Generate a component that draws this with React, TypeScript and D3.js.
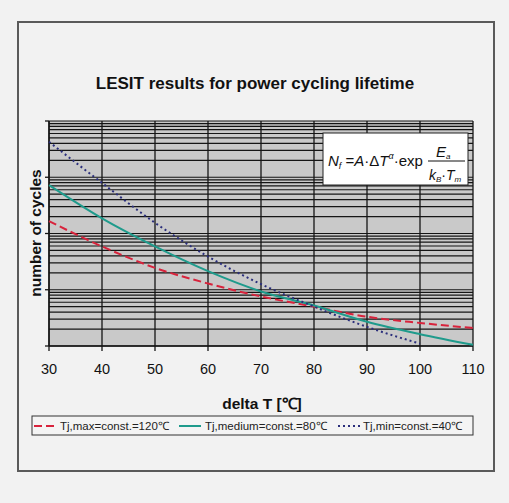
import React from 'react';
import * as d3 from 'd3';

// delta T values [°C]
const deltaT = [30, 40, 50, 60, 70, 80, 90, 100, 110];
// number of cycles
const tjMax = [166000, 58900, 24500, 12900, 7590, 5010, 3310, 2570, 2090];
const tjMedium = [724000, 186000, 58900, 21400, 9330, 5250, 2690, 1620, 1050];
const tjMin = [4270000, 794000, 155000, 38900, 12600, 5010, 2190, 1100];

const seriesNames = ['Tj,max=const.=120℃', 'Tj,medium=const.=80℃', 'Tj,min=const.=40℃'];
const seriesColors = ['#d8233c', '#1f9b8c', '#2b2f7c'];
const seriesDash = ['8,4', null, '2,3'];
const seriesData = [tjMax, tjMedium, tjMin];

const xTicks = [30, 40, 50, 60, 70, 80, 90, 100, 110];
const decades = [1e3, 1e4, 1e5, 1e6, 1e7];

const W = 509, H = 503;
const FONT = '"Liberation Sans", Arial, sans-serif';

export default function App() {
  const plot = { left: 49, right: 473, top: 121, bottom: 346 };
  const x = d3.scaleLinear().domain([30, 110]).range([plot.left, plot.right]);
  const y = d3.scaleLog().domain([1e3, 1e7]).range([plot.bottom, plot.top]);

  // all log grid lines 1..9 x 10^k
  const gridVals: number[] = [];
  decades.slice(0, -1).forEach(d => {
    for (let m = 1; m < 10; m++) gridVals.push(d * m);
  });
  gridVals.push(1e7);

  const line = d3.line<[number, number]>()
    .x(d => x(d[0]))
    .y(d => y(d[1]))
    .curve(d3.curveMonotoneX);

  const legendItems = [
    { lx: 34, tx: 60 },
    { lx: 179, tx: 205 },
    { lx: 338, tx: 363 },
  ];

  return (
    <svg width={W} height={H} style={{ position: 'absolute', left: 0, top: 0, background: '#f2f2f2' }}
      fontFamily={FONT}>
      <rect x={0} y={0} width={W} height={H} fill="#f2f2f2" />
      {/* outer frame */}
      <rect x={18} y={22} width={476} height={449} fill="#f2f2f2" stroke="#5a5a5a" strokeWidth={2} />

      <text x={255} y={89} textAnchor="middle" fontSize={17} fontWeight="bold" fill="#111">
        LESIT results for power cycling lifetime
      </text>

      {/* plot area */}
      <rect x={plot.left} y={plot.top} width={plot.right - plot.left} height={plot.bottom - plot.top} fill="#c9c9c9" />
      {gridVals.map((v, i) => (
        <line key={'h' + i} x1={plot.left} x2={plot.right} y1={y(v)} y2={y(v)} stroke="#151515" strokeWidth={1.2} />
      ))}
      {xTicks.map(t => (
        <line key={'v' + t} x1={x(t)} x2={x(t)} y1={plot.top} y2={plot.bottom + 5} stroke="#151515" strokeWidth={1.3} />
      ))}
      {/* axes */}
      <line x1={plot.left} x2={plot.left} y1={plot.top} y2={plot.bottom} stroke="#151515" strokeWidth={1.4} />
      <line x1={plot.left} x2={plot.right} y1={plot.bottom} y2={plot.bottom} stroke="#151515" strokeWidth={1.4} />
      {decades.map(d => (
        <line key={'yt' + d} x1={plot.left - 4} x2={plot.left} y1={y(d)} y2={y(d)} stroke="#151515" strokeWidth={1.3} />
      ))}

      {/* formula box */}
      <rect x={323} y={133} width={145} height={52} fill="#ffffff" stroke="#222" strokeWidth={1} />
      <text x={328} y={166} fontSize={15} fill="#111">
        <tspan fontStyle="italic">N</tspan>
        <tspan fontSize={9} dy={3} fontStyle="italic">f</tspan>
        <tspan dy={-3}> =</tspan>
        <tspan fontStyle="italic">A</tspan>
        <tspan>·Δ</tspan>
        <tspan fontStyle="italic">T</tspan>
        <tspan fontSize={9} dy={-7} fontStyle="italic">α</tspan>
        <tspan dy={7}>·exp</tspan>
      </text>
      <line x1={428} x2={465} y1={161} y2={161} stroke="#111" strokeWidth={1} />
      <text x={436} y={157} fontSize={15} fill="#111">
        <tspan fontStyle="italic">E</tspan>
        <tspan fontSize={8} dy={2} fontStyle="italic">a</tspan>
      </text>
      <text x={429} y={180} fontSize={14} fill="#111">
        <tspan fontStyle="italic">k</tspan>
        <tspan fontSize={8} dy={2} fontStyle="italic">B</tspan>
        <tspan dy={-2}>·</tspan>
        <tspan fontStyle="italic">T</tspan>
        <tspan fontSize={8} dy={2} fontStyle="italic">m</tspan>
      </text>

      {/* series */}
      {seriesData.map((vals, i) => (
        <path key={'s' + i}
          d={line(vals.map((v, j) => [deltaT[j], v] as [number, number])) || ''}
          fill="none" stroke={seriesColors[i]} strokeWidth={2}
          strokeDasharray={seriesDash[i] || undefined} />
      ))}

      {/* x tick labels */}
      {xTicks.map(t => (
        <text key={'xl' + t} x={x(t)} y={373.5} textAnchor="middle" fontSize={14.5} fill="#111">{t}</text>
      ))}
      <text x={262} y={409} textAnchor="middle" fontSize={15.5} fontWeight="bold" fill="#111">delta T [℃]</text>
      <text transform="translate(40.5,233) rotate(-90)" textAnchor="middle" fontSize={15.5} fontWeight="bold" fill="#111">
        number of cycles
      </text>

      {/* legend */}
      <rect x={32} y={416} width={441} height={19} fill="#f4f4f4" stroke="#333" strokeWidth={1} />
      {seriesNames.map((n, i) => (
        <g key={'lg' + i}>
          <line x1={legendItems[i].lx} x2={legendItems[i].lx + 22} y1={426} y2={426}
            stroke={seriesColors[i]} strokeWidth={2} strokeDasharray={seriesDash[i] || undefined} />
          <text x={legendItems[i].tx} y={430} fontSize={11.5} fill="#222">{n}</text>
        </g>
      ))}
    </svg>
  );
}
